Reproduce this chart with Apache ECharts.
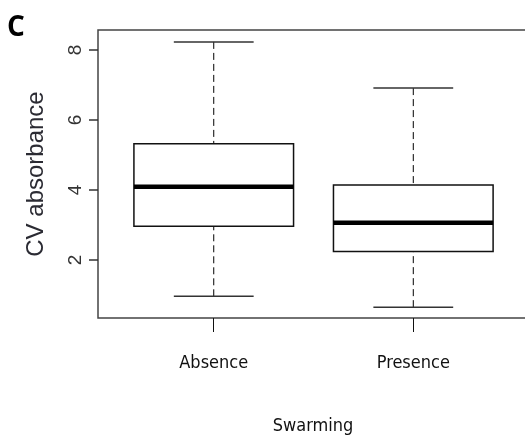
<!DOCTYPE html>
<html lang="en">
<head>
<meta charset="UTF-8">
<title>CV absorbance</title>
<style>
  html, body { margin: 0; padding: 0; background: #fff; }
  #chart { width: 525px; height: 445px; }
</style>
</head>
<body>
<div id="chart"></div>
<script src="https://cdn.jsdelivr.net/npm/echarts@6/dist/echarts.min.js"></script>
<script>
// values
var categories = ['Absence', 'Presence'];
var whiskerLow = [0.96, 0.65];
var q1 = [2.96, 2.24];
var median = [4.09, 3.06];
var q3 = [5.32, 4.14];
var whiskerHigh = [8.23, 6.91];
var yTicks = [2, 4, 6, 8];
var xTicks = [1, 2];

var boxData = categories.map(function (c, i) {
  return [i + 1, whiskerLow[i], q1[i], median[i], q3[i], whiskerHigh[i]];
});

var narrow = "'DejaVu Sans Condensed', 'Liberation Sans', sans-serif";

function renderBox(params, api) {
  var x = api.value(0);
  var lo = api.coord([x, api.value(1)]);
  var b1 = api.coord([x, api.value(2)]);
  var md = api.coord([x, api.value(3)]);
  var b3 = api.coord([x, api.value(4)]);
  var hi = api.coord([x, api.value(5)]);
  var left = api.coord([x - 0.4, 0])[0];
  var right = api.coord([x + 0.4, 0])[0];
  var capL = api.coord([x - 0.2, 0])[0];
  var capR = api.coord([x + 0.2, 0])[0];
  var dash = { stroke: '#000', lineWidth: 1, lineDash: [7, 4] };
  var cap = { stroke: '#333', lineWidth: 1.5 };
  return {
    type: 'group',
    children: [
      { type: 'line', shape: { x1: hi[0], y1: hi[1], x2: b3[0], y2: b3[1] }, style: dash },
      { type: 'line', shape: { x1: lo[0], y1: lo[1], x2: b1[0], y2: b1[1] }, style: dash },
      { type: 'line', shape: { x1: capL, y1: hi[1], x2: capR, y2: hi[1] }, style: cap },
      { type: 'line', shape: { x1: capL, y1: lo[1], x2: capR, y2: lo[1] }, style: cap },
      { type: 'rect', shape: { x: left, y: b3[1], width: right - left, height: b1[1] - b3[1] },
        style: { fill: '#fff', stroke: '#111', lineWidth: 1.5 } },
      { type: 'line', shape: { x1: left, y1: md[1], x2: right, y2: md[1] },
        style: { stroke: '#000', lineWidth: 4.5 } }
    ]
  };
}

var chart = echarts.init(document.getElementById('chart'));
chart.setOption({
  animation: false,
  title: {
    text: 'C', left: 2, top: 9,
    textStyle: { fontFamily: "'Open Sans', sans-serif", fontWeight: 'bold', fontSize: 28, color: '#000' }
  },
  // the plot frame runs past the right edge of the picture
  grid: {
    left: 98, top: 30, width: 440, height: 288,
    outerBoundsMode: 'none',
    show: true, borderColor: '#444', borderWidth: 1.5
  },
  xAxis: {
    type: 'value', min: 0.42, max: 2.625,
    name: 'Swarming', nameLocation: 'middle', nameGap: 99,
    // padding nudges the title back to the centre of the original plot region
    nameTextStyle: { fontFamily: narrow, fontSize: 18, color: '#111', padding: [0, 10, 0, 0] },
    axisLine: { show: false },
    splitLine: { show: false },
    axisTick: { show: true, customValues: xTicks, length: 14, lineStyle: { color: '#111', width: 1 } },
    axisLabel: {
      customValues: xTicks, margin: 36, fontFamily: narrow, fontSize: 18, color: '#111',
      formatter: function (v) { return categories[Math.round(v) - 1]; }
    }
  },
  yAxis: {
    type: 'value', min: 0.34, max: 8.57,
    name: 'CV absorbance', nameLocation: 'middle', nameRotate: 90, nameGap: 50,
    nameTextStyle: { fontFamily: "'Liberation Sans', sans-serif", fontSize: 24, color: '#2b2b33' },
    axisLine: { show: false },
    splitLine: { show: false },
    axisTick: { show: true, customValues: yTicks, length: 9, lineStyle: { color: '#333', width: 1.5 } },
    axisLabel: {
      customValues: yTicks, rotate: 90, margin: 13,
      fontFamily: "'Liberation Sans', sans-serif", fontSize: 19, color: '#333'
    }
  },
  series: [{
    type: 'custom',
    renderItem: renderBox,
    encode: { x: 0, y: [1, 2, 3, 4, 5] },
    data: boxData
  }]
});
</script>
</body>
</html>
